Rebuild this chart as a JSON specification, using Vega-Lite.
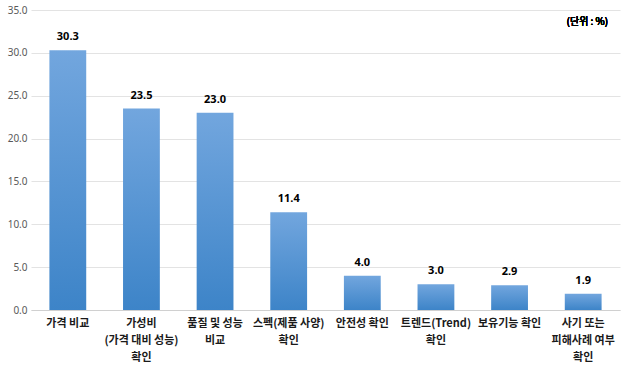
{
  "$schema": "https://vega.github.io/schema/vega-lite/v6.json",
  "autosize": "none",
  "width": 589,
  "height": 300,
  "padding": {"left": 31, "top": 10, "right": 11, "bottom": 68},
  "background": "white",
  "config": {"view": {"stroke": null}, "font": "Noto Sans CJK KR"},
  "data": {
    "values": [
      {"category": "가격 비교", "value": 30.3},
      {"category": "가성비\n(가격 대비 성능)\n확인", "value": 23.5},
      {"category": "품질 및 성능\n비교", "value": 23.0},
      {"category": "스펙(제품 사양)\n확인", "value": 11.4},
      {"category": "안전성 확인", "value": 4.0},
      {"category": "트렌드(Trend)\n확인", "value": 3.0},
      {"category": "보유기능 확인", "value": 2.9},
      {"category": "사기 또는\n피해사례 여부\n확인", "value": 1.9}
    ]
  },
  "encoding": {
    "x": {
      "field": "category",
      "type": "nominal",
      "sort": null,
      "scale": {"paddingInner": 0.5, "paddingOuter": 0.25},
      "axis": {
        "title": null,
        "labelAngle": 0,
        "labelExpr": "split(datum.label, '\\n')",
        "labelFont": "Noto Sans CJK KR",
        "labelFontWeight": "bold",
        "labelFontSize": 11,
        "labelColor": "#1a1a1a",
        "labelLineHeight": 17,
        "labelPadding": 7,
        "labelLimit": 200,
        "ticks": false,
        "domainColor": "#d0d0d0",
        "grid": false
      }
    }
  },
  "layer": [
    {
      "mark": {
        "type": "bar",
        "color": {
          "gradient": "linear",
          "x1": 0, "y1": 0, "x2": 0, "y2": 1,
          "stops": [
            {"offset": 0, "color": "#72a6de"},
            {"offset": 1, "color": "#3d84c8"}
          ]
        }
      },
      "encoding": {
        "y": {
          "field": "value",
          "type": "quantitative",
          "scale": {"domain": [0, 35], "nice": false},
          "axis": {
            "title": null,
            "values": [0, 5, 10, 15, 20, 25, 30, 35],
            "format": ".1f",
            "labelFont": "Noto Sans",
            "labelFontSize": 10,
            "labelColor": "#595959",
            "labelPadding": 4,
            "ticks": false,
            "domain": false,
            "gridColor": "#e3e3e3"
          }
        }
      }
    },
    {
      "mark": {
        "type": "text",
        "baseline": "bottom",
        "dy": -8,
        "fontWeight": "bold",
        "fontSize": 11,
        "font": "Noto Sans",
        "color": "#000000"
      },
      "encoding": {
        "y": {"field": "value", "type": "quantitative"},
        "text": {"field": "value", "type": "quantitative", "format": ".1f"}
      }
    },
    {
      "mark": {
        "type": "text",
        "align": "right",
        "baseline": "middle",
        "dx": 25,
        "fontSize": 10,
        "fontWeight": "normal",
        "font": "Noto Sans CJK KR",
        "color": "#000000"
      },
      "encoding": {
        "x": {"datum": "사기 또는\n피해사례 여부\n확인"},
        "y": {"datum": 33.6},
        "text": {"value": "(단위 : %)"}
      }
    }
  ]
}
